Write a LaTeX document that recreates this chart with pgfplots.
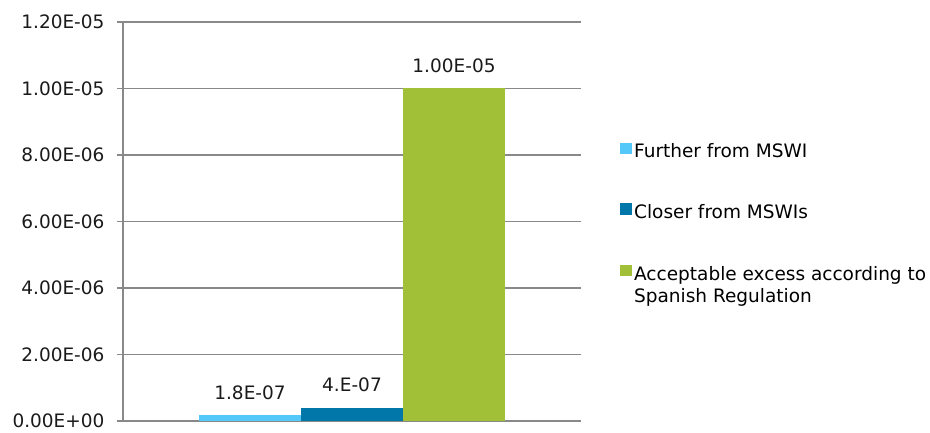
\documentclass[border=0pt]{standalone}
\usepackage{pgfplots}
\pgfplotsset{compat=1.18}
\usepackage{fontspec}
\setmainfont{DejaVu Sans}
\definecolor{lightbar}{HTML}{55C8FA}
\definecolor{darkbar}{HTML}{0077A8}
\definecolor{greenbar}{HTML}{A2BF38}
\definecolor{gridgray}{HTML}{898989}
\definecolor{txt}{HTML}{1A1A1A}

\begin{document}
\begin{tikzpicture}[font=\fontsize{18.5pt}{22pt}\selectfont]
\useasboundingbox (0,0) rectangle (930pt,433pt);
\begin{axis}[
  at={(123pt,12pt)}, anchor=south west,
  scale only axis, width=458pt, height=399pt,
  xmin=-1, xmax=1, ymin=0, ymax=1.2e-5,
  ybar=0pt, bar width=102pt,
  axis x line=none,
  axis y line*=left,
  y axis line style={gridgray, line width=1.6pt, -},
  ytick={0,2e-6,4e-6,6e-6,8e-6,1e-5,1.2e-5},
  yticklabels={0.00E+00,2.00E-06,4.00E-06,6.00E-06,8.00E-06,1.00E-05,1.20E-05},
  scaled y ticks=false,
  ymajorgrids,
  grid style={gridgray, line width=1.6pt},
  major tick style={gridgray, line width=1.6pt},
  major tick length=6pt,
  tick align=outside,
  yticklabel style={txt, xshift=-9pt},
  xtick=\empty,
  nodes near coords,
  point meta=explicit symbolic,
  every node near coord/.append style={txt, yshift=12pt},
  legend cell align=left,
  legend image code/.code={\fill[#1, draw=none] (0pt,-3pt) rectangle (12pt,8.5pt);},
  legend style={draw=none, fill=none, at={(rel axis cs:1.085,0.701)}, anchor=north west,
    inner sep=0pt, row sep=41pt, nodes={inner sep=2pt}},
]
\addplot[fill=lightbar, draw=none] coordinates {(0,1.8e-7) [1.8E-07]};
\addlegendentry{Further from MSWI}
\addplot[fill=darkbar, draw=none] coordinates {(0,4e-7) [4.E-07]};
\addlegendentry{Closer from MSWIs}
\addplot[fill=greenbar, draw=none] coordinates {(0,1e-5) [1.00E-05]};
\addlegendentry{\begin{tabular}[t]{@{}l@{}}Acceptable excess according to\\Spanish Regulation\end{tabular}}
\end{axis}
\end{tikzpicture}
\end{document}
